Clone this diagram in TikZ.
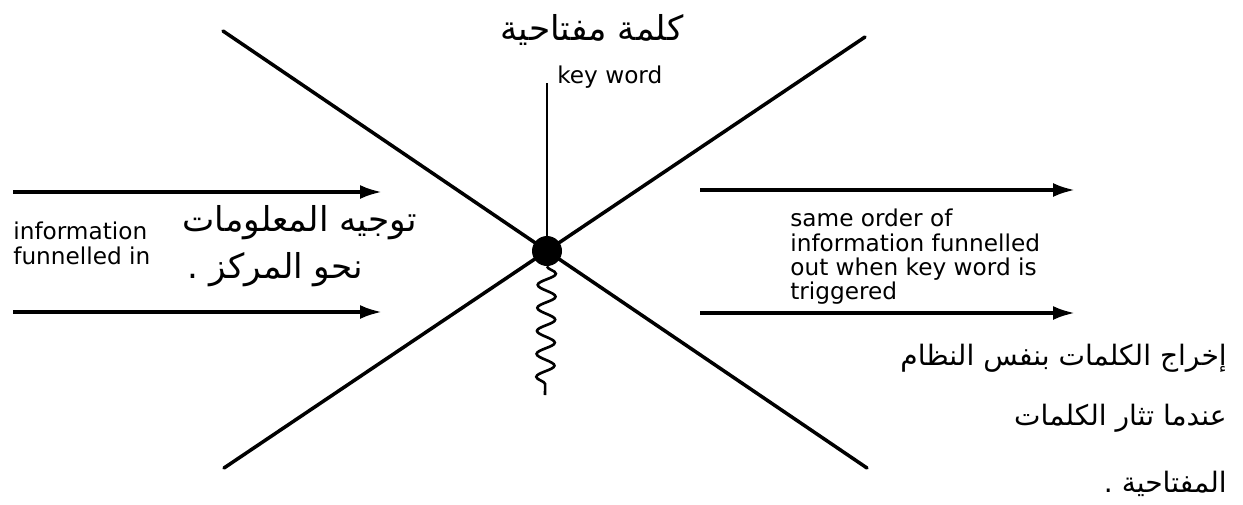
\documentclass[tikz,border=0pt]{standalone}
\usepackage{fontspec}
\setmainfont{DejaVu Sans}
\newfontfamily\arabicfont[Script=Arabic]{DejaVu Sans}
\TeXXeTstate=1
\usetikzlibrary{arrows.meta,decorations.pathmorphing}

\begin{document}
\begin{tikzpicture}[x=0.02cm, y=-0.02cm,
    spoke/.style={line width=2pt, line cap=round},
    flow/.style={line width=2pt, -{Latex[length=4.4mm,width=2.8mm]}},
    engtext/.style={font=\fontsize{13.2}{13.8}\selectfont, align=left, inner sep=0pt},
    artext/.style={font=\fontsize{16}{20}\arabicfont, inner sep=0pt},
    bigartext/.style={artext, font=\fontsize{19.5}{22}\arabicfont}]
  \useasboundingbox (0,0) rectangle (1243,504);
  % ends of the two crossing lines
  \coordinate (tl) at (223,31);
  \coordinate (tr) at (865,37);
  \coordinate (bl) at (224,468);
  \coordinate (br) at (867,468);
  \coordinate (keytop) at (547,83);
  \coordinate (tail) at (545,395);
  \draw[spoke] (tl) -- (br);
  \draw[spoke] (tr) -- (bl);
  \node[circle, fill, inner sep=0pt, minimum size=0.6cm] (hub) at (547,251) {};
  \draw[line width=1.1pt] (keytop) -- (hub);
  \draw[line width=1.5pt, decorate,
    decoration={snake, amplitude=0.18cm, segment length=0.46cm}] (hub.south) -- (tail);
  % arrows in and out
  \coordinate (inTa) at (13,192);  \coordinate (inTb) at (382,192);
  \coordinate (inBa) at (13,312);  \coordinate (inBb) at (382,312);
  \coordinate (outTa) at (700,190); \coordinate (outTb) at (1075,190);
  \coordinate (outBa) at (700,313); \coordinate (outBb) at (1075,313);
  \draw[flow] (inTa) -- (inTb);
  \draw[flow] (inBa) -- (inBb);
  \draw[flow] (outTa) -- (outTb);
  \draw[flow] (outBa) -- (outBb);
  % labels
  \node[bigartext] (kwar) at (592,30) {\beginR كلمة مفتاحية\endR};
  \node[engtext, anchor=west] (kw) at (557,77) {key word};
  \node[engtext, anchor=north west] (infoin) at (13,222) {information\\funnelled in};
  \node[bigartext, anchor=west] (inar1) at (182,223) {\beginR توجيه المعلومات\endR};
  \node[bigartext, anchor=west] (inar2) at (187,270) {\beginR نحو المركز .\endR};
  \node[engtext, anchor=north west] (infoout) at (790,209)
    {same order of\\information funnelled\\out when key word is\\triggered};
  \node[artext, anchor=east] (outar1) at (1227,358) {\beginR إخراج الكلمات بنفس النظام\endR};
  \node[artext, anchor=east] (outar2) at (1227,418) {\beginR عندما تثار الكلمات\endR};
  \node[artext, anchor=east] (outar3) at (1227,484) {\beginR المفتاحية .\endR};
\end{tikzpicture}
\end{document}
